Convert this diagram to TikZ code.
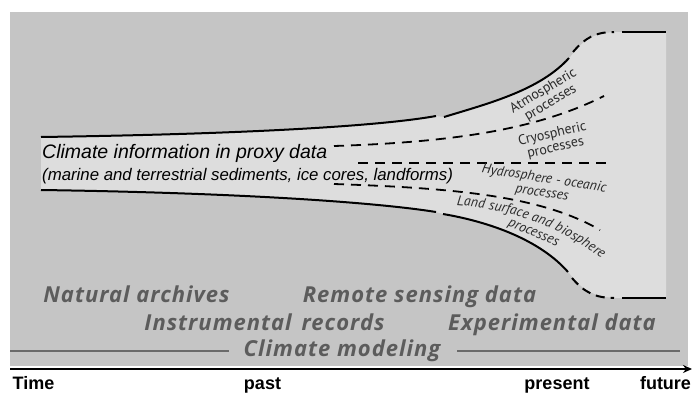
\documentclass[tikz,border=0pt]{standalone}
\usepackage{fontspec}
\setmainfont{Liberation Sans}
\newfontfamily\ptsans{PT Sans}
\newfontfamily\opensans{Open Sans}[LetterSpace=4.5]
\usetikzlibrary{arrows.meta,decorations.text}
\definecolor{bggray}{HTML}{C5C5C5}
\definecolor{funnelgray}{HTML}{DDDDDD}
\definecolor{txtgray}{HTML}{5C5C5C}
\definecolor{modgray}{HTML}{6A6A6A}
\definecolor{lbl}{HTML}{2A2A2A}
\begin{document}
\begin{tikzpicture}[x=1pt,y=-1pt,
  funline/.style={line width=2pt,black},
  dashline/.style={line width=1.8pt,black,dash pattern=on 10pt off 7pt},
  proxytxt/.style={inner sep=0pt,anchor=base west,text=black},
  proclbl/.style={inner sep=0pt,text=lbl,align=center,font=\ptsans\fontsize{14}{14}\selectfont},
  proclbli/.style={proclbl,font=\ptsans\itshape\fontsize{14}{14}\selectfont},
  bigtxt/.style={inner sep=0pt,anchor=base,text=txtgray,font=\opensans\bfseries\itshape\fontsize{22}{22}\selectfont},
  timetxt/.style={inner sep=0pt,anchor=base,font=\bfseries\fontsize{18}{18}\selectfont}]
\useasboundingbox (0,0) rectangle (694,394);
% background
\fill[bggray] (10,12) rectangle (688,366);
% funnel fill
\fill[funnelgray] (41,137) .. controls (250,134) and (380,126) .. (436,116) -- (444,117)
  .. controls (490,103) and (540,90) .. (571,56) .. controls (585,38) and (595,32) .. (620,32)
  -- (666,32) -- (666,298) -- (620,298) .. controls (595,298) and (582,290) .. (570,274)
  .. controls (540,240) and (490,222) .. (443,214) -- (436,212)
  .. controls (380,203) and (250,193) .. (41,190) -- cycle;
% top boundary
\draw[funline] (41,137) .. controls (250,134) and (380,126) .. (436,116);
\draw[funline] (444,117) .. controls (490,103) and (540,90) .. (569,58);
\draw[funline,dash pattern=on 9pt off 6pt] (573,52) .. controls (585,38) and (595,32) .. (614,32);
\draw[funline] (622,32) -- (666,32);
% bottom boundary
\draw[funline] (41,190) .. controls (250,193) and (380,203) .. (436,212);
\draw[funline] (443,214) .. controls (490,222) and (540,240) .. (568,272);
\draw[funline,dash pattern=on 9pt off 6pt] (572,278) .. controls (584,292) and (595,298) .. (614,298);
\draw[funline] (622,298) -- (666,298);
% inner dashed lines
\draw[dashline] (334,146) .. controls (460,142) and (540,128) .. (604,96);
\draw[dashline] (358,163) -- (606,163);
\draw[dashline] (334,184) .. controls (450,188) and (540,195) .. (600,230);
% proxy text
\node[proxytxt,font=\itshape\fontsize{19.5}{20}\selectfont] (proxy1) at (42,158) {Climate information in proxy data};
\node[proxytxt,font=\itshape\fontsize{16.8}{17}\selectfont] (proxy2) at (42,180) {(marine and terrestrial sediments, ice cores, landforms)};
% process labels
\node[proclbl,rotate=31] (atm) at (547,97) {Atmospheric\\processes};
\node[proclbl,rotate=13] (cry) at (554,141) {Cryospheric\\processes};
\node[proclbli,rotate=-9] (hyd) at (543,186) {Hydrosphere - oceanic\\processes};
\path[decoration={text along path,text align=center,
  text={|\ptsans\itshape\fontsize{14}{14}\selectfont\color{lbl}|Land surface and biosphere}},decorate]
  (451,205) .. controls (500,208) and (552,220) .. (606,262);
\node[proclbli,rotate=-23] (land) at (533,234) {processes};
% bottom texts
\node[bigtxt] (nat) at (136.5,302) {Natural archives};
\node[bigtxt] (rem) at (419.5,302) {Remote sensing data};
\node[bigtxt] (ins) at (264.5,330) {Instrumental\hspace{0.45em}records};
\node[bigtxt] (exp) at (552,330) {Experimental data};
\node[bigtxt] (cmod) at (342,356) {Climate modeling};
\coordinate (ml1) at (10,351);
\coordinate (ml2) at (229,351);
\coordinate (mr1) at (457,351);
\coordinate (mr2) at (680,351);
\draw[modgray,line width=2.7pt] (ml1) -- (ml2);
\draw[modgray,line width=2.7pt] (mr1) -- (mr2);
% time axis
\coordinate (t0) at (10,369);
\coordinate (t1) at (692,369);
\draw[line width=1.6pt,-{Stealth[length=9pt,width=8pt]}] (t0) -- (t1);
\node[timetxt] (time) at (33.5,389) {Time};
\node[timetxt] (past) at (262.5,389) {past};
\node[timetxt] (present) at (557,389) {present};
\node[timetxt] (future) at (665.5,389) {future};
\end{tikzpicture}
\end{document}
